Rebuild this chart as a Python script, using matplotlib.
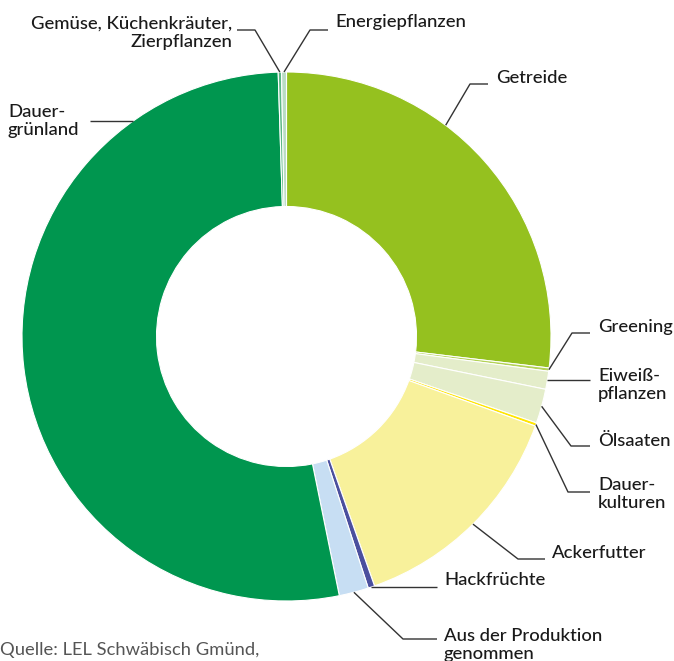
import numpy as np
import matplotlib.pyplot as plt

# shares of agricultural area (percent), clockwise from 12 o'clock
categories = ["Getreide", "Greening", "Eiweiß-\npflanzen", "Ölsaaten", "Dauer-\nkulturen",
              "Ackerfutter", "Hackfrüchte", "Aus der Produktion\ngenommen",
              "Dauer-\ngrünland", "Gemüse, Küchenkräuter,\nZierpflanzen", "Energiepflanzen"]
shares = [26.9, 0.2, 1.1, 2.1, 0.2, 14.1, 0.4, 1.8, 52.7, 0.2, 0.3]
colors = ["#95c11f", "#b3d256", "#e4edca", "#e4edca", "#ffe500",
          "#f8f19b", "#4b4f9e", "#c7def3", "#00964f", "#5cb884", "#b9dcc5"]

# label layout in pixels: text x, text y, ha, elbow (x, y), line end x, anchor angle override
layout = [
    (496, 78, "left", (470, 84), 488, 37),
    (598, 327, "left", (572, 333), 590, None),
    (598, 385, "left", (560, 383), 590, None),
    (598, 441, "left", (571, 446), 590, None),
    (598, 494, "left", (568, 492), 590, None),
    (552, 553, "left", (518, 559), 545, None),
    (444, 580, "left", (400, 586), 437, None),
    (444, 645, "left", (403, 639), 437, None),
    (8, 121, "left", (110, 121), 90, 324.5),
    (232, 33, "right", (255, 30), 237, None),
    (335, 22, "left", (310, 30), 328, None),
]

W, H = 674, 661
cx, cy, r_out, r_in = 286.5, 336.5, 264.5, 130

plt.rcParams["font.family"] = ["Lato", "DejaVu Sans"]
fig = plt.figure(figsize=(W / 100, H / 100), dpi=100)
ax = fig.add_axes([0, 0, 1, 1])

# y axis is inverted, so counterclock in data = clockwise on screen
wedges, _ = ax.pie(shares, colors=colors, startangle=-90, counterclock=True,
                   center=(cx, cy), radius=r_out,
                   wedgeprops=dict(width=r_out - r_in, edgecolor="white", linewidth=0.8))
ax.set_xlim(0, W)
ax.set_ylim(H, 0)
ax.set_aspect("equal")
ax.axis("off")

for w, lab, (tx, ty, ha, (ex, ey), lx, ang) in zip(wedges, categories, layout):
    if ang is None:
        a = np.deg2rad((w.theta1 + w.theta2) / 2)
    else:
        a = np.deg2rad(ang - 90)
    px = cx + r_out * np.cos(a)
    py = cy + r_out * np.sin(a)
    if abs(ey - py) < 8:
        ey = py
    ax.plot([px, ex, lx], [py, ey, ey], color="#333333", lw=1, solid_capstyle="butt")
    ax.text(tx, ty, lab, ha=ha, va="center", fontsize=13.3, color="#1a1a1a",
            linespacing=1.2, fontweight="medium")

ax.text(0, 650, "Quelle: LEL Schwäbisch Gmünd,", ha="left", va="center",
        fontsize=13.2, color="#555555", fontweight="normal")

fig.savefig("out.png", dpi=100)
